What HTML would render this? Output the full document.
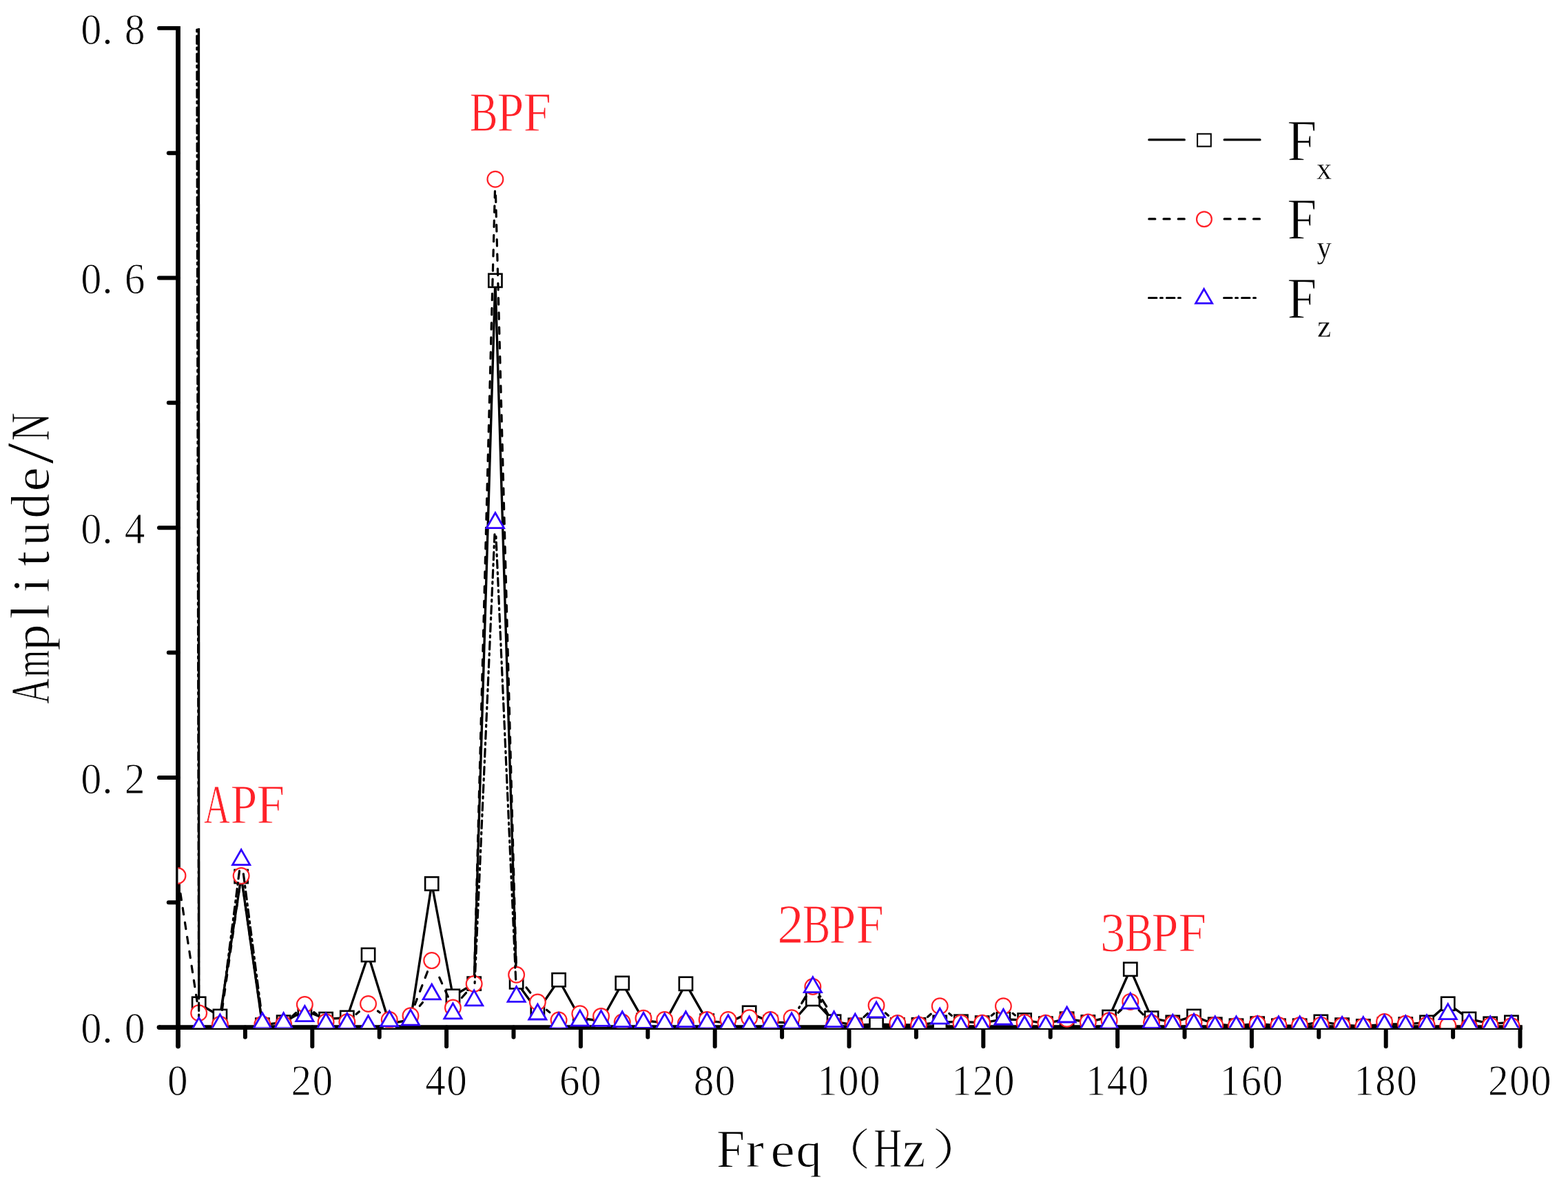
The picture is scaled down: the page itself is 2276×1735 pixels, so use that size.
<!DOCTYPE html><html><head><meta charset="utf-8"><title>Amplitude spectrum</title>
<style>html,body{margin:0;padding:0;background:#fff;}svg{display:block;}text{font-family:'Liberation Serif','Noto Serif CJK SC',serif;stroke:#fff;stroke-width:1px;}</style></head><body>
<svg width="2276" height="1735" viewBox="0 0 2276 1735">
<rect width="2276" height="1735" fill="#fff"/>
<defs><clipPath id="pc"><rect x="258.5" y="40.9" width="1952.0" height="1451.7"/></clipPath></defs>
<line x1="258.5" y1="38.0" x2="258.5" y2="1519.0" stroke="#000" stroke-width="6.8"/>
<circle cx="258.5" cy="1519.0" r="3.40" fill="#000"/>
<line x1="231.0" y1="1491.6" x2="2209.8" y2="1491.6" stroke="#000" stroke-width="6.8"/>
<circle cx="231.0" cy="1491.6" r="3.40" fill="#000"/>
<line x1="244.8" y1="1310.25" x2="258.5" y2="1310.25" stroke="#000" stroke-width="6.0" stroke-linecap="round"/>
<line x1="231.0" y1="1128.90" x2="258.5" y2="1128.90" stroke="#000" stroke-width="6.0" stroke-linecap="round"/>
<line x1="244.8" y1="947.55" x2="258.5" y2="947.55" stroke="#000" stroke-width="6.0" stroke-linecap="round"/>
<line x1="231.0" y1="766.20" x2="258.5" y2="766.20" stroke="#000" stroke-width="6.0" stroke-linecap="round"/>
<line x1="244.8" y1="584.85" x2="258.5" y2="584.85" stroke="#000" stroke-width="6.0" stroke-linecap="round"/>
<line x1="231.0" y1="403.50" x2="258.5" y2="403.50" stroke="#000" stroke-width="6.0" stroke-linecap="round"/>
<line x1="244.8" y1="222.15" x2="258.5" y2="222.15" stroke="#000" stroke-width="6.0" stroke-linecap="round"/>
<line x1="231.0" y1="40.94" x2="258.5" y2="40.94" stroke="#000" stroke-width="5.8" stroke-linecap="round"/>
<line x1="355.90" y1="1491.6" x2="355.90" y2="1505.7" stroke="#000" stroke-width="6.0" stroke-linecap="round"/>
<line x1="453.30" y1="1491.6" x2="453.30" y2="1519.3" stroke="#000" stroke-width="6.0" stroke-linecap="round"/>
<line x1="550.70" y1="1491.6" x2="550.70" y2="1505.7" stroke="#000" stroke-width="6.0" stroke-linecap="round"/>
<line x1="648.10" y1="1491.6" x2="648.10" y2="1519.3" stroke="#000" stroke-width="6.0" stroke-linecap="round"/>
<line x1="745.50" y1="1491.6" x2="745.50" y2="1505.7" stroke="#000" stroke-width="6.0" stroke-linecap="round"/>
<line x1="842.90" y1="1491.6" x2="842.90" y2="1519.3" stroke="#000" stroke-width="6.0" stroke-linecap="round"/>
<line x1="940.30" y1="1491.6" x2="940.30" y2="1505.7" stroke="#000" stroke-width="6.0" stroke-linecap="round"/>
<line x1="1037.70" y1="1491.6" x2="1037.70" y2="1519.3" stroke="#000" stroke-width="6.0" stroke-linecap="round"/>
<line x1="1135.10" y1="1491.6" x2="1135.10" y2="1505.7" stroke="#000" stroke-width="6.0" stroke-linecap="round"/>
<line x1="1232.50" y1="1491.6" x2="1232.50" y2="1519.3" stroke="#000" stroke-width="6.0" stroke-linecap="round"/>
<line x1="1329.90" y1="1491.6" x2="1329.90" y2="1505.7" stroke="#000" stroke-width="6.0" stroke-linecap="round"/>
<line x1="1427.30" y1="1491.6" x2="1427.30" y2="1519.3" stroke="#000" stroke-width="6.0" stroke-linecap="round"/>
<line x1="1524.70" y1="1491.6" x2="1524.70" y2="1505.7" stroke="#000" stroke-width="6.0" stroke-linecap="round"/>
<line x1="1622.10" y1="1491.6" x2="1622.10" y2="1519.3" stroke="#000" stroke-width="6.0" stroke-linecap="round"/>
<line x1="1719.50" y1="1491.6" x2="1719.50" y2="1505.7" stroke="#000" stroke-width="6.0" stroke-linecap="round"/>
<line x1="1816.90" y1="1491.6" x2="1816.90" y2="1519.3" stroke="#000" stroke-width="6.0" stroke-linecap="round"/>
<line x1="1914.30" y1="1491.6" x2="1914.30" y2="1505.7" stroke="#000" stroke-width="6.0" stroke-linecap="round"/>
<line x1="2011.70" y1="1491.6" x2="2011.70" y2="1519.3" stroke="#000" stroke-width="6.0" stroke-linecap="round"/>
<line x1="2109.10" y1="1491.6" x2="2109.10" y2="1505.7" stroke="#000" stroke-width="6.0" stroke-linecap="round"/>
<line x1="2206.50" y1="1491.6" x2="2206.50" y2="1519.3" stroke="#000" stroke-width="6.0" stroke-linecap="round"/>
<g clip-path="url(#pc)">
<path d="M288.4 0 L288.69 1457.32" fill="none" stroke="#000" stroke-width="3.4"/>
<polyline points="288.69,1457.32 319.42,1475.46 350.15,1272.53 380.88,1488.15 411.61,1484.16 442.34,1466.94 473.07,1479.63 503.80,1477.45 534.53,1386.42 565.25,1486.16 595.98,1480.72 626.71,1283.05 657.44,1446.26 688.17,1428.13 718.90,407.31 749.63,1425.77 780.36,1468.02 811.09,1422.69 841.82,1478.00 872.55,1482.53 903.28,1427.40 934.01,1481.44 964.74,1485.07 995.47,1428.31 1026.20,1482.17 1056.93,1485.07 1087.66,1470.38 1118.39,1483.98 1149.12,1485.07 1179.85,1450.43 1210.57,1483.26 1241.30,1488.34 1272.03,1487.07 1302.76,1487.97 1333.49,1487.79 1364.22,1484.35 1394.95,1483.26 1425.68,1485.07 1456.41,1479.81 1487.14,1481.08 1517.87,1486.16 1548.60,1479.27 1579.33,1483.98 1610.06,1476.55 1640.79,1407.27 1671.52,1478.18 1702.25,1484.35 1732.98,1475.46 1763.71,1487.25 1794.44,1489.24 1825.16,1486.16 1855.89,1489.24 1886.62,1489.24 1917.35,1483.44 1948.08,1488.15 1978.81,1489.97 2009.54,1487.07 2040.27,1487.07 2071.00,1484.35 2101.73,1457.32 2132.46,1479.45 2163.19,1486.34 2193.92,1484.35" fill="none" stroke="#000" stroke-width="3.4" stroke-linejoin="round"/>
<rect x="279.09" y="1447.72" width="19.2" height="19.2" fill="#fff" stroke="#000" stroke-width="2.6"/>
<rect x="309.82" y="1465.86" width="19.2" height="19.2" fill="#fff" stroke="#000" stroke-width="2.6"/>
<rect x="340.55" y="1262.93" width="19.2" height="19.2" fill="#fff" stroke="#000" stroke-width="2.6"/>
<rect x="371.28" y="1478.55" width="19.2" height="19.2" fill="#fff" stroke="#000" stroke-width="2.6"/>
<rect x="402.01" y="1474.56" width="19.2" height="19.2" fill="#fff" stroke="#000" stroke-width="2.6"/>
<rect x="432.74" y="1457.34" width="19.2" height="19.2" fill="#fff" stroke="#000" stroke-width="2.6"/>
<rect x="463.47" y="1470.03" width="19.2" height="19.2" fill="#fff" stroke="#000" stroke-width="2.6"/>
<rect x="494.20" y="1467.85" width="19.2" height="19.2" fill="#fff" stroke="#000" stroke-width="2.6"/>
<rect x="524.93" y="1376.82" width="19.2" height="19.2" fill="#fff" stroke="#000" stroke-width="2.6"/>
<rect x="555.65" y="1476.56" width="19.2" height="19.2" fill="#fff" stroke="#000" stroke-width="2.6"/>
<rect x="586.38" y="1471.12" width="19.2" height="19.2" fill="#fff" stroke="#000" stroke-width="2.6"/>
<rect x="617.11" y="1273.45" width="19.2" height="19.2" fill="#fff" stroke="#000" stroke-width="2.6"/>
<rect x="647.84" y="1436.66" width="19.2" height="19.2" fill="#fff" stroke="#000" stroke-width="2.6"/>
<rect x="678.57" y="1418.53" width="19.2" height="19.2" fill="#fff" stroke="#000" stroke-width="2.6"/>
<rect x="709.30" y="397.71" width="19.2" height="19.2" fill="#fff" stroke="#000" stroke-width="2.6"/>
<rect x="740.03" y="1416.17" width="19.2" height="19.2" fill="#fff" stroke="#000" stroke-width="2.6"/>
<rect x="770.76" y="1458.42" width="19.2" height="19.2" fill="#fff" stroke="#000" stroke-width="2.6"/>
<rect x="801.49" y="1413.09" width="19.2" height="19.2" fill="#fff" stroke="#000" stroke-width="2.6"/>
<rect x="832.22" y="1468.40" width="19.2" height="19.2" fill="#fff" stroke="#000" stroke-width="2.6"/>
<rect x="862.95" y="1472.93" width="19.2" height="19.2" fill="#fff" stroke="#000" stroke-width="2.6"/>
<rect x="893.68" y="1417.80" width="19.2" height="19.2" fill="#fff" stroke="#000" stroke-width="2.6"/>
<rect x="924.41" y="1471.84" width="19.2" height="19.2" fill="#fff" stroke="#000" stroke-width="2.6"/>
<rect x="955.14" y="1475.47" width="19.2" height="19.2" fill="#fff" stroke="#000" stroke-width="2.6"/>
<rect x="985.87" y="1418.71" width="19.2" height="19.2" fill="#fff" stroke="#000" stroke-width="2.6"/>
<rect x="1016.60" y="1472.57" width="19.2" height="19.2" fill="#fff" stroke="#000" stroke-width="2.6"/>
<rect x="1047.33" y="1475.47" width="19.2" height="19.2" fill="#fff" stroke="#000" stroke-width="2.6"/>
<rect x="1078.06" y="1460.78" width="19.2" height="19.2" fill="#fff" stroke="#000" stroke-width="2.6"/>
<rect x="1108.79" y="1474.38" width="19.2" height="19.2" fill="#fff" stroke="#000" stroke-width="2.6"/>
<rect x="1139.52" y="1475.47" width="19.2" height="19.2" fill="#fff" stroke="#000" stroke-width="2.6"/>
<rect x="1170.25" y="1440.83" width="19.2" height="19.2" fill="#fff" stroke="#000" stroke-width="2.6"/>
<rect x="1200.97" y="1473.66" width="19.2" height="19.2" fill="#fff" stroke="#000" stroke-width="2.6"/>
<rect x="1231.70" y="1478.74" width="19.2" height="19.2" fill="#fff" stroke="#000" stroke-width="2.6"/>
<rect x="1262.43" y="1477.47" width="19.2" height="19.2" fill="#fff" stroke="#000" stroke-width="2.6"/>
<rect x="1293.16" y="1478.37" width="19.2" height="19.2" fill="#fff" stroke="#000" stroke-width="2.6"/>
<rect x="1323.89" y="1478.19" width="19.2" height="19.2" fill="#fff" stroke="#000" stroke-width="2.6"/>
<rect x="1354.62" y="1474.75" width="19.2" height="19.2" fill="#fff" stroke="#000" stroke-width="2.6"/>
<rect x="1385.35" y="1473.66" width="19.2" height="19.2" fill="#fff" stroke="#000" stroke-width="2.6"/>
<rect x="1416.08" y="1475.47" width="19.2" height="19.2" fill="#fff" stroke="#000" stroke-width="2.6"/>
<rect x="1446.81" y="1470.21" width="19.2" height="19.2" fill="#fff" stroke="#000" stroke-width="2.6"/>
<rect x="1477.54" y="1471.48" width="19.2" height="19.2" fill="#fff" stroke="#000" stroke-width="2.6"/>
<rect x="1508.27" y="1476.56" width="19.2" height="19.2" fill="#fff" stroke="#000" stroke-width="2.6"/>
<rect x="1539.00" y="1469.67" width="19.2" height="19.2" fill="#fff" stroke="#000" stroke-width="2.6"/>
<rect x="1569.73" y="1474.38" width="19.2" height="19.2" fill="#fff" stroke="#000" stroke-width="2.6"/>
<rect x="1600.46" y="1466.95" width="19.2" height="19.2" fill="#fff" stroke="#000" stroke-width="2.6"/>
<rect x="1631.19" y="1397.67" width="19.2" height="19.2" fill="#fff" stroke="#000" stroke-width="2.6"/>
<rect x="1661.92" y="1468.58" width="19.2" height="19.2" fill="#fff" stroke="#000" stroke-width="2.6"/>
<rect x="1692.65" y="1474.75" width="19.2" height="19.2" fill="#fff" stroke="#000" stroke-width="2.6"/>
<rect x="1723.38" y="1465.86" width="19.2" height="19.2" fill="#fff" stroke="#000" stroke-width="2.6"/>
<rect x="1754.11" y="1477.65" width="19.2" height="19.2" fill="#fff" stroke="#000" stroke-width="2.6"/>
<rect x="1784.84" y="1479.64" width="19.2" height="19.2" fill="#fff" stroke="#000" stroke-width="2.6"/>
<rect x="1815.56" y="1476.56" width="19.2" height="19.2" fill="#fff" stroke="#000" stroke-width="2.6"/>
<rect x="1846.29" y="1479.64" width="19.2" height="19.2" fill="#fff" stroke="#000" stroke-width="2.6"/>
<rect x="1877.02" y="1479.64" width="19.2" height="19.2" fill="#fff" stroke="#000" stroke-width="2.6"/>
<rect x="1907.75" y="1473.84" width="19.2" height="19.2" fill="#fff" stroke="#000" stroke-width="2.6"/>
<rect x="1938.48" y="1478.55" width="19.2" height="19.2" fill="#fff" stroke="#000" stroke-width="2.6"/>
<rect x="1969.21" y="1480.37" width="19.2" height="19.2" fill="#fff" stroke="#000" stroke-width="2.6"/>
<rect x="1999.94" y="1477.47" width="19.2" height="19.2" fill="#fff" stroke="#000" stroke-width="2.6"/>
<rect x="2030.67" y="1477.47" width="19.2" height="19.2" fill="#fff" stroke="#000" stroke-width="2.6"/>
<rect x="2061.40" y="1474.75" width="19.2" height="19.2" fill="#fff" stroke="#000" stroke-width="2.6"/>
<rect x="2092.13" y="1447.72" width="19.2" height="19.2" fill="#fff" stroke="#000" stroke-width="2.6"/>
<rect x="2122.86" y="1469.85" width="19.2" height="19.2" fill="#fff" stroke="#000" stroke-width="2.6"/>
<rect x="2153.59" y="1476.74" width="19.2" height="19.2" fill="#fff" stroke="#000" stroke-width="2.6"/>
<rect x="2184.32" y="1474.75" width="19.2" height="19.2" fill="#fff" stroke="#000" stroke-width="2.6"/>
<g fill="none" stroke="#000" stroke-width="3.2" stroke-dasharray="9.45 11.8" stroke-linecap="round">
<line x1="286.05" y1="1453.65" x2="260.60" y2="1288.54"/><line x1="347.71" y1="1288.75" x2="321.86" y2="1470.12"/><line x1="378.44" y1="1469.94" x2="352.59" y2="1288.75"/><line x1="429.65" y1="1470.35" x2="424.30" y2="1475.31"/><line x1="459.69" y1="1472.83" x2="455.71" y2="1469.57"/><line x1="521.38" y1="1468.75" x2="516.94" y2="1472.55"/><line x1="551.41" y1="1470.16" x2="548.37" y2="1467.88"/><line x1="620.52" y1="1410.73" x2="602.18" y2="1458.58"/><line x1="650.35" y1="1447.17" x2="633.81" y2="1410.36"/><line x1="676.66" y1="1441.40" x2="668.96" y2="1450.04"/><line x1="718.45" y1="277.53" x2="688.63" y2="1411.20"/><line x1="749.17" y1="1397.96" x2="719.36" y2="277.53"/><line x1="769.77" y1="1441.28" x2="760.22" y2="1428.93"/><line x1="797.91" y1="1469.88" x2="793.54" y2="1466.17"/><line x1="1170.14" y1="1446.80" x2="1158.82" y2="1463.50"/><line x1="1202.24" y1="1473.18" x2="1188.18" y2="1447.64"/><line x1="1259.42" y1="1471.52" x2="1253.92" y2="1476.68"/><line x1="1289.54" y1="1474.46" x2="1285.25" y2="1470.84"/><line x1="1351.27" y1="1472.24" x2="1346.45" y2="1476.51"/><line x1="1381.42" y1="1474.47" x2="1377.75" y2="1471.55"/><line x1="1442.88" y1="1471.55" x2="1439.21" y2="1474.47"/><line x1="1473.45" y1="1473.95" x2="1470.10" y2="1471.35"/><line x1="1627.87" y1="1465.93" x2="1622.97" y2="1470.30"/><line x1="1659.27" y1="1472.85" x2="1653.04" y2="1466.64"/>
</g>
<circle cx="257.96" cy="1271.44" r="11.4" fill="#fff" stroke="#ff2128" stroke-width="2.2"/>
<circle cx="288.69" cy="1470.74" r="11.4" fill="#fff" stroke="#ff2128" stroke-width="2.2"/>
<circle cx="319.42" cy="1487.25" r="11.4" fill="#fff" stroke="#ff2128" stroke-width="2.2"/>
<circle cx="350.15" cy="1271.62" r="11.4" fill="#fff" stroke="#ff2128" stroke-width="2.2"/>
<circle cx="380.88" cy="1487.07" r="11.4" fill="#fff" stroke="#ff2128" stroke-width="2.2"/>
<circle cx="411.61" cy="1487.07" r="11.4" fill="#fff" stroke="#ff2128" stroke-width="2.2"/>
<circle cx="442.34" cy="1458.59" r="11.4" fill="#fff" stroke="#ff2128" stroke-width="2.2"/>
<circle cx="473.07" cy="1483.80" r="11.4" fill="#fff" stroke="#ff2128" stroke-width="2.2"/>
<circle cx="503.80" cy="1483.80" r="11.4" fill="#fff" stroke="#ff2128" stroke-width="2.2"/>
<circle cx="534.53" cy="1457.51" r="11.4" fill="#fff" stroke="#ff2128" stroke-width="2.2"/>
<circle cx="565.25" cy="1480.54" r="11.4" fill="#fff" stroke="#ff2128" stroke-width="2.2"/>
<circle cx="595.98" cy="1474.73" r="11.4" fill="#fff" stroke="#ff2128" stroke-width="2.2"/>
<circle cx="626.71" cy="1394.58" r="11.4" fill="#fff" stroke="#ff2128" stroke-width="2.2"/>
<circle cx="657.44" cy="1462.95" r="11.4" fill="#fff" stroke="#ff2128" stroke-width="2.2"/>
<circle cx="688.17" cy="1428.49" r="11.4" fill="#fff" stroke="#ff2128" stroke-width="2.2"/>
<circle cx="718.90" cy="260.23" r="11.4" fill="#fff" stroke="#ff2128" stroke-width="2.2"/>
<circle cx="749.63" cy="1415.25" r="11.4" fill="#fff" stroke="#ff2128" stroke-width="2.2"/>
<circle cx="780.36" cy="1454.97" r="11.4" fill="#fff" stroke="#ff2128" stroke-width="2.2"/>
<circle cx="811.09" cy="1481.08" r="11.4" fill="#fff" stroke="#ff2128" stroke-width="2.2"/>
<circle cx="841.82" cy="1471.83" r="11.4" fill="#fff" stroke="#ff2128" stroke-width="2.2"/>
<circle cx="872.55" cy="1475.46" r="11.4" fill="#fff" stroke="#ff2128" stroke-width="2.2"/>
<circle cx="903.28" cy="1483.98" r="11.4" fill="#fff" stroke="#ff2128" stroke-width="2.2"/>
<circle cx="934.01" cy="1478.36" r="11.4" fill="#fff" stroke="#ff2128" stroke-width="2.2"/>
<circle cx="964.74" cy="1480.54" r="11.4" fill="#fff" stroke="#ff2128" stroke-width="2.2"/>
<circle cx="995.47" cy="1485.62" r="11.4" fill="#fff" stroke="#ff2128" stroke-width="2.2"/>
<circle cx="1026.20" cy="1480.54" r="11.4" fill="#fff" stroke="#ff2128" stroke-width="2.2"/>
<circle cx="1056.93" cy="1480.54" r="11.4" fill="#fff" stroke="#ff2128" stroke-width="2.2"/>
<circle cx="1087.66" cy="1477.82" r="11.4" fill="#fff" stroke="#ff2128" stroke-width="2.2"/>
<circle cx="1118.39" cy="1480.54" r="11.4" fill="#fff" stroke="#ff2128" stroke-width="2.2"/>
<circle cx="1149.12" cy="1477.82" r="11.4" fill="#fff" stroke="#ff2128" stroke-width="2.2"/>
<circle cx="1179.85" cy="1432.48" r="11.4" fill="#fff" stroke="#ff2128" stroke-width="2.2"/>
<circle cx="1210.57" cy="1488.34" r="11.4" fill="#fff" stroke="#ff2128" stroke-width="2.2"/>
<circle cx="1241.30" cy="1488.52" r="11.4" fill="#fff" stroke="#ff2128" stroke-width="2.2"/>
<circle cx="1272.03" cy="1459.68" r="11.4" fill="#fff" stroke="#ff2128" stroke-width="2.2"/>
<circle cx="1302.76" cy="1485.62" r="11.4" fill="#fff" stroke="#ff2128" stroke-width="2.2"/>
<circle cx="1333.49" cy="1487.97" r="11.4" fill="#fff" stroke="#ff2128" stroke-width="2.2"/>
<circle cx="1364.22" cy="1460.77" r="11.4" fill="#fff" stroke="#ff2128" stroke-width="2.2"/>
<circle cx="1394.95" cy="1485.25" r="11.4" fill="#fff" stroke="#ff2128" stroke-width="2.2"/>
<circle cx="1425.68" cy="1485.25" r="11.4" fill="#fff" stroke="#ff2128" stroke-width="2.2"/>
<circle cx="1456.41" cy="1460.77" r="11.4" fill="#fff" stroke="#ff2128" stroke-width="2.2"/>
<circle cx="1487.14" cy="1484.53" r="11.4" fill="#fff" stroke="#ff2128" stroke-width="2.2"/>
<circle cx="1517.87" cy="1485.25" r="11.4" fill="#fff" stroke="#ff2128" stroke-width="2.2"/>
<circle cx="1548.60" cy="1479.27" r="11.4" fill="#fff" stroke="#ff2128" stroke-width="2.2"/>
<circle cx="1579.33" cy="1483.98" r="11.4" fill="#fff" stroke="#ff2128" stroke-width="2.2"/>
<circle cx="1610.06" cy="1481.81" r="11.4" fill="#fff" stroke="#ff2128" stroke-width="2.2"/>
<circle cx="1640.79" cy="1454.42" r="11.4" fill="#fff" stroke="#ff2128" stroke-width="2.2"/>
<circle cx="1671.52" cy="1485.07" r="11.4" fill="#fff" stroke="#ff2128" stroke-width="2.2"/>
<circle cx="1702.25" cy="1486.16" r="11.4" fill="#fff" stroke="#ff2128" stroke-width="2.2"/>
<circle cx="1732.98" cy="1484.35" r="11.4" fill="#fff" stroke="#ff2128" stroke-width="2.2"/>
<circle cx="1763.71" cy="1488.52" r="11.4" fill="#fff" stroke="#ff2128" stroke-width="2.2"/>
<circle cx="1794.44" cy="1489.42" r="11.4" fill="#fff" stroke="#ff2128" stroke-width="2.2"/>
<circle cx="1825.16" cy="1486.52" r="11.4" fill="#fff" stroke="#ff2128" stroke-width="2.2"/>
<circle cx="1855.89" cy="1488.52" r="11.4" fill="#fff" stroke="#ff2128" stroke-width="2.2"/>
<circle cx="1886.62" cy="1488.52" r="11.4" fill="#fff" stroke="#ff2128" stroke-width="2.2"/>
<circle cx="1917.35" cy="1488.15" r="11.4" fill="#fff" stroke="#ff2128" stroke-width="2.2"/>
<circle cx="1948.08" cy="1489.06" r="11.4" fill="#fff" stroke="#ff2128" stroke-width="2.2"/>
<circle cx="1978.81" cy="1490.15" r="11.4" fill="#fff" stroke="#ff2128" stroke-width="2.2"/>
<circle cx="2009.54" cy="1483.62" r="11.4" fill="#fff" stroke="#ff2128" stroke-width="2.2"/>
<circle cx="2040.27" cy="1486.34" r="11.4" fill="#fff" stroke="#ff2128" stroke-width="2.2"/>
<circle cx="2071.00" cy="1487.97" r="11.4" fill="#fff" stroke="#ff2128" stroke-width="2.2"/>
<circle cx="2101.73" cy="1489.06" r="11.4" fill="#fff" stroke="#ff2128" stroke-width="2.2"/>
<circle cx="2132.46" cy="1490.69" r="11.4" fill="#fff" stroke="#ff2128" stroke-width="2.2"/>
<circle cx="2163.19" cy="1488.88" r="11.4" fill="#fff" stroke="#ff2128" stroke-width="2.2"/>
<circle cx="2193.92" cy="1489.42" r="11.4" fill="#fff" stroke="#ff2128" stroke-width="2.2"/>
<path d="M285.7 0 L288.69 1487.97" fill="none" stroke="#000" stroke-width="3.2" stroke-dasharray="11.5 5.5 3 6" stroke-linecap="round"/>
<g fill="none" stroke="#000" stroke-width="3.2" stroke-dasharray="11.3 5.7 2.8 6.2" stroke-linecap="round">
<line x1="347.50" y1="1264.69" x2="322.07" y2="1462.63"/><line x1="378.20" y1="1460.45" x2="352.82" y2="1264.68"/><line x1="613.46" y1="1455.40" x2="609.24" y2="1460.52"/><line x1="717.98" y1="775.74" x2="689.09" y2="1427.48"/><line x1="748.70" y1="1422.04" x2="719.83" y2="775.74"/><line x1="1169.30" y1="1446.96" x2="1159.66" y2="1463.34"/><line x1="1199.69" y1="1461.36" x2="1190.73" y2="1446.76"/><line x1="1625.62" y1="1466.66" x2="1625.23" y2="1467.03"/>
</g>
<path d="M288.69 1477.57L301.29 1499.57L276.09 1499.57Z" fill="#fff" stroke="#3000ff" stroke-width="2.8" stroke-linejoin="miter"/>
<path d="M319.42 1472.86L332.02 1494.86L306.82 1494.86Z" fill="#fff" stroke="#3000ff" stroke-width="2.8" stroke-linejoin="miter"/>
<path d="M350.15 1233.66L362.75 1255.66L337.55 1255.66Z" fill="#fff" stroke="#3000ff" stroke-width="2.8" stroke-linejoin="miter"/>
<path d="M380.88 1470.68L393.48 1492.68L368.28 1492.68Z" fill="#fff" stroke="#3000ff" stroke-width="2.8" stroke-linejoin="miter"/>
<path d="M411.61 1470.68L424.21 1492.68L399.01 1492.68Z" fill="#fff" stroke="#3000ff" stroke-width="2.8" stroke-linejoin="miter"/>
<path d="M442.34 1460.53L454.94 1482.53L429.74 1482.53Z" fill="#fff" stroke="#3000ff" stroke-width="2.8" stroke-linejoin="miter"/>
<path d="M473.07 1471.23L485.67 1493.23L460.47 1493.23Z" fill="#fff" stroke="#3000ff" stroke-width="2.8" stroke-linejoin="miter"/>
<path d="M503.80 1471.23L516.40 1493.23L491.20 1493.23Z" fill="#fff" stroke="#3000ff" stroke-width="2.8" stroke-linejoin="miter"/>
<path d="M534.53 1474.67L547.13 1496.67L521.93 1496.67Z" fill="#fff" stroke="#3000ff" stroke-width="2.8" stroke-linejoin="miter"/>
<path d="M565.25 1467.96L577.86 1489.96L552.65 1489.96Z" fill="#fff" stroke="#3000ff" stroke-width="2.8" stroke-linejoin="miter"/>
<path d="M595.98 1466.15L608.58 1488.15L583.38 1488.15Z" fill="#fff" stroke="#3000ff" stroke-width="2.8" stroke-linejoin="miter"/>
<path d="M626.71 1428.97L639.31 1450.97L614.11 1450.97Z" fill="#fff" stroke="#3000ff" stroke-width="2.8" stroke-linejoin="miter"/>
<path d="M657.44 1456.90L670.04 1478.90L644.84 1478.90Z" fill="#fff" stroke="#3000ff" stroke-width="2.8" stroke-linejoin="miter"/>
<path d="M688.17 1437.86L700.77 1459.86L675.57 1459.86Z" fill="#fff" stroke="#3000ff" stroke-width="2.8" stroke-linejoin="miter"/>
<path d="M718.90 744.56L731.50 766.56L706.30 766.56Z" fill="#fff" stroke="#3000ff" stroke-width="2.8" stroke-linejoin="miter"/>
<path d="M749.63 1432.42L762.23 1454.42L737.03 1454.42Z" fill="#fff" stroke="#3000ff" stroke-width="2.8" stroke-linejoin="miter"/>
<path d="M780.36 1457.99L792.96 1479.99L767.76 1479.99Z" fill="#fff" stroke="#3000ff" stroke-width="2.8" stroke-linejoin="miter"/>
<path d="M811.09 1470.86L823.69 1492.86L798.49 1492.86Z" fill="#fff" stroke="#3000ff" stroke-width="2.8" stroke-linejoin="miter"/>
<path d="M841.82 1467.05L854.42 1489.05L829.22 1489.05Z" fill="#fff" stroke="#3000ff" stroke-width="2.8" stroke-linejoin="miter"/>
<path d="M872.55 1467.42L885.15 1489.42L859.95 1489.42Z" fill="#fff" stroke="#3000ff" stroke-width="2.8" stroke-linejoin="miter"/>
<path d="M903.28 1468.69L915.88 1490.69L890.68 1490.69Z" fill="#fff" stroke="#3000ff" stroke-width="2.8" stroke-linejoin="miter"/>
<path d="M934.01 1470.32L946.61 1492.32L921.41 1492.32Z" fill="#fff" stroke="#3000ff" stroke-width="2.8" stroke-linejoin="miter"/>
<path d="M964.74 1471.59L977.34 1493.59L952.14 1493.59Z" fill="#fff" stroke="#3000ff" stroke-width="2.8" stroke-linejoin="miter"/>
<path d="M995.47 1468.69L1008.07 1490.69L982.87 1490.69Z" fill="#fff" stroke="#3000ff" stroke-width="2.8" stroke-linejoin="miter"/>
<path d="M1026.20 1470.86L1038.80 1492.86L1013.60 1492.86Z" fill="#fff" stroke="#3000ff" stroke-width="2.8" stroke-linejoin="miter"/>
<path d="M1056.93 1473.76L1069.53 1495.76L1044.33 1495.76Z" fill="#fff" stroke="#3000ff" stroke-width="2.8" stroke-linejoin="miter"/>
<path d="M1087.66 1475.94L1100.26 1497.94L1075.06 1497.94Z" fill="#fff" stroke="#3000ff" stroke-width="2.8" stroke-linejoin="miter"/>
<path d="M1118.39 1470.86L1130.99 1492.86L1105.79 1492.86Z" fill="#fff" stroke="#3000ff" stroke-width="2.8" stroke-linejoin="miter"/>
<path d="M1149.12 1470.86L1161.72 1492.86L1136.52 1492.86Z" fill="#fff" stroke="#3000ff" stroke-width="2.8" stroke-linejoin="miter"/>
<path d="M1179.85 1418.63L1192.44 1440.63L1167.25 1440.63Z" fill="#fff" stroke="#3000ff" stroke-width="2.8" stroke-linejoin="miter"/>
<path d="M1210.57 1468.69L1223.17 1490.69L1197.97 1490.69Z" fill="#fff" stroke="#3000ff" stroke-width="2.8" stroke-linejoin="miter"/>
<path d="M1241.30 1472.13L1253.90 1494.13L1228.70 1494.13Z" fill="#fff" stroke="#3000ff" stroke-width="2.8" stroke-linejoin="miter"/>
<path d="M1272.03 1454.90L1284.63 1476.90L1259.43 1476.90Z" fill="#fff" stroke="#3000ff" stroke-width="2.8" stroke-linejoin="miter"/>
<path d="M1302.76 1475.94L1315.36 1497.94L1290.16 1497.94Z" fill="#fff" stroke="#3000ff" stroke-width="2.8" stroke-linejoin="miter"/>
<path d="M1333.49 1475.94L1346.09 1497.94L1320.89 1497.94Z" fill="#fff" stroke="#3000ff" stroke-width="2.8" stroke-linejoin="miter"/>
<path d="M1364.22 1464.15L1376.82 1486.15L1351.62 1486.15Z" fill="#fff" stroke="#3000ff" stroke-width="2.8" stroke-linejoin="miter"/>
<path d="M1394.95 1476.67L1407.55 1498.67L1382.35 1498.67Z" fill="#fff" stroke="#3000ff" stroke-width="2.8" stroke-linejoin="miter"/>
<path d="M1425.68 1475.94L1438.28 1497.94L1413.08 1497.94Z" fill="#fff" stroke="#3000ff" stroke-width="2.8" stroke-linejoin="miter"/>
<path d="M1456.41 1465.24L1469.01 1487.24L1443.81 1487.24Z" fill="#fff" stroke="#3000ff" stroke-width="2.8" stroke-linejoin="miter"/>
<path d="M1487.14 1475.58L1499.74 1497.58L1474.54 1497.58Z" fill="#fff" stroke="#3000ff" stroke-width="2.8" stroke-linejoin="miter"/>
<path d="M1517.87 1475.58L1530.47 1497.58L1505.27 1497.58Z" fill="#fff" stroke="#3000ff" stroke-width="2.8" stroke-linejoin="miter"/>
<path d="M1548.60 1461.98L1561.20 1483.98L1536.00 1483.98Z" fill="#fff" stroke="#3000ff" stroke-width="2.8" stroke-linejoin="miter"/>
<path d="M1579.33 1474.85L1591.93 1496.85L1566.73 1496.85Z" fill="#fff" stroke="#3000ff" stroke-width="2.8" stroke-linejoin="miter"/>
<path d="M1610.06 1470.86L1622.66 1492.86L1597.46 1492.86Z" fill="#fff" stroke="#3000ff" stroke-width="2.8" stroke-linejoin="miter"/>
<path d="M1640.79 1442.03L1653.39 1464.03L1628.19 1464.03Z" fill="#fff" stroke="#3000ff" stroke-width="2.8" stroke-linejoin="miter"/>
<path d="M1671.52 1470.32L1684.12 1492.32L1658.92 1492.32Z" fill="#fff" stroke="#3000ff" stroke-width="2.8" stroke-linejoin="miter"/>
<path d="M1702.25 1473.22L1714.85 1495.22L1689.65 1495.22Z" fill="#fff" stroke="#3000ff" stroke-width="2.8" stroke-linejoin="miter"/>
<path d="M1732.98 1472.31L1745.58 1494.31L1720.38 1494.31Z" fill="#fff" stroke="#3000ff" stroke-width="2.8" stroke-linejoin="miter"/>
<path d="M1763.71 1475.76L1776.31 1497.76L1751.11 1497.76Z" fill="#fff" stroke="#3000ff" stroke-width="2.8" stroke-linejoin="miter"/>
<path d="M1794.44 1475.76L1807.04 1497.76L1781.84 1497.76Z" fill="#fff" stroke="#3000ff" stroke-width="2.8" stroke-linejoin="miter"/>
<path d="M1825.16 1475.76L1837.76 1497.76L1812.56 1497.76Z" fill="#fff" stroke="#3000ff" stroke-width="2.8" stroke-linejoin="miter"/>
<path d="M1855.89 1475.76L1868.49 1497.76L1843.29 1497.76Z" fill="#fff" stroke="#3000ff" stroke-width="2.8" stroke-linejoin="miter"/>
<path d="M1886.62 1475.76L1899.22 1497.76L1874.02 1497.76Z" fill="#fff" stroke="#3000ff" stroke-width="2.8" stroke-linejoin="miter"/>
<path d="M1917.35 1475.03L1929.95 1497.03L1904.75 1497.03Z" fill="#fff" stroke="#3000ff" stroke-width="2.8" stroke-linejoin="miter"/>
<path d="M1948.08 1476.48L1960.68 1498.48L1935.48 1498.48Z" fill="#fff" stroke="#3000ff" stroke-width="2.8" stroke-linejoin="miter"/>
<path d="M1978.81 1476.67L1991.41 1498.67L1966.21 1498.67Z" fill="#fff" stroke="#3000ff" stroke-width="2.8" stroke-linejoin="miter"/>
<path d="M2009.54 1473.76L2022.14 1495.76L1996.94 1495.76Z" fill="#fff" stroke="#3000ff" stroke-width="2.8" stroke-linejoin="miter"/>
<path d="M2040.27 1474.85L2052.87 1496.85L2027.67 1496.85Z" fill="#fff" stroke="#3000ff" stroke-width="2.8" stroke-linejoin="miter"/>
<path d="M2071.00 1473.76L2083.60 1495.76L2058.40 1495.76Z" fill="#fff" stroke="#3000ff" stroke-width="2.8" stroke-linejoin="miter"/>
<path d="M2101.73 1457.62L2114.33 1479.62L2089.13 1479.62Z" fill="#fff" stroke="#3000ff" stroke-width="2.8" stroke-linejoin="miter"/>
<path d="M2132.46 1473.04L2145.06 1495.04L2119.86 1495.04Z" fill="#fff" stroke="#3000ff" stroke-width="2.8" stroke-linejoin="miter"/>
<path d="M2163.19 1475.94L2175.79 1497.94L2150.59 1497.94Z" fill="#fff" stroke="#3000ff" stroke-width="2.8" stroke-linejoin="miter"/>
<path d="M2193.92 1474.85L2206.52 1496.85L2181.32 1496.85Z" fill="#fff" stroke="#3000ff" stroke-width="2.8" stroke-linejoin="miter"/>
</g>
<text transform="matrix(0.9497 0 0 1 117.30 1514.40)" font-size="63.60">0</text>
<text transform="matrix(1.0000 0 0 1.0000 148.00 1514.40)" font-size="63.60" fill="#000">.</text>
<text transform="matrix(0.9386 0 0 1 180.73 1514.40)" font-size="63.60">0</text>
<text transform="matrix(0.9497 0 0 1 117.30 1151.70)" font-size="63.60">0</text>
<text transform="matrix(1.0000 0 0 1.0000 148.00 1151.70)" font-size="63.60" fill="#000">.</text>
<text transform="matrix(0.9386 0 0 1 180.73 1151.70)" font-size="63.60">2</text>
<text transform="matrix(0.9497 0 0 1 117.30 789.00)" font-size="63.60">0</text>
<text transform="matrix(1.0000 0 0 1.0000 148.00 789.00)" font-size="63.60" fill="#000">.</text>
<text transform="matrix(0.9386 0 0 1 180.73 789.00)" font-size="63.60">4</text>
<text transform="matrix(0.9497 0 0 1 117.30 426.30)" font-size="63.60">0</text>
<text transform="matrix(1.0000 0 0 1.0000 148.00 426.30)" font-size="63.60" fill="#000">.</text>
<text transform="matrix(0.9386 0 0 1 180.73 426.30)" font-size="63.60">6</text>
<text transform="matrix(0.9497 0 0 1 117.30 63.60)" font-size="63.60">0</text>
<text transform="matrix(1.0000 0 0 1.0000 148.00 63.60)" font-size="63.60" fill="#000">.</text>
<text transform="matrix(0.9386 0 0 1 180.73 63.60)" font-size="63.60">8</text>
<text transform="matrix(0.9300 0 0 1 243.09 1590.30)" font-size="63.70">0</text>
<text transform="matrix(0.9300 0 0 1 422.39 1590.30)" font-size="63.70">2</text>
<text transform="matrix(0.9300 0 0 1 453.39 1590.30)" font-size="63.70">0</text>
<text transform="matrix(0.9300 0 0 1 617.19 1590.30)" font-size="63.70">4</text>
<text transform="matrix(0.9300 0 0 1 648.19 1590.30)" font-size="63.70">0</text>
<text transform="matrix(0.9300 0 0 1 811.99 1590.30)" font-size="63.70">6</text>
<text transform="matrix(0.9300 0 0 1 842.99 1590.30)" font-size="63.70">0</text>
<text transform="matrix(0.9300 0 0 1 1006.79 1590.30)" font-size="63.70">8</text>
<text transform="matrix(0.9300 0 0 1 1037.79 1590.30)" font-size="63.70">0</text>
<text transform="matrix(0.9300 0 0 1 1186.09 1590.30)" font-size="63.70">1</text>
<text transform="matrix(0.9300 0 0 1 1217.09 1590.30)" font-size="63.70">0</text>
<text transform="matrix(0.9300 0 0 1 1248.09 1590.30)" font-size="63.70">0</text>
<text transform="matrix(0.9300 0 0 1 1380.89 1590.30)" font-size="63.70">1</text>
<text transform="matrix(0.9300 0 0 1 1411.89 1590.30)" font-size="63.70">2</text>
<text transform="matrix(0.9300 0 0 1 1442.89 1590.30)" font-size="63.70">0</text>
<text transform="matrix(0.9300 0 0 1 1575.69 1590.30)" font-size="63.70">1</text>
<text transform="matrix(0.9300 0 0 1 1606.69 1590.30)" font-size="63.70">4</text>
<text transform="matrix(0.9300 0 0 1 1637.69 1590.30)" font-size="63.70">0</text>
<text transform="matrix(0.9300 0 0 1 1770.49 1590.30)" font-size="63.70">1</text>
<text transform="matrix(0.9300 0 0 1 1801.49 1590.30)" font-size="63.70">6</text>
<text transform="matrix(0.9300 0 0 1 1832.49 1590.30)" font-size="63.70">0</text>
<text transform="matrix(0.9300 0 0 1 1965.29 1590.30)" font-size="63.70">1</text>
<text transform="matrix(0.9300 0 0 1 1996.29 1590.30)" font-size="63.70">8</text>
<text transform="matrix(0.9300 0 0 1 2027.29 1590.30)" font-size="63.70">0</text>
<text transform="matrix(0.9300 0 0 1 2160.09 1590.30)" font-size="63.70">2</text>
<text transform="matrix(0.9300 0 0 1 2191.09 1590.30)" font-size="63.70">0</text>
<text transform="matrix(0.9300 0 0 1 2222.09 1590.30)" font-size="63.70">0</text>
<g transform="translate(71.2 1020.7) rotate(-90)">
<text transform="matrix(0.6371 0 0 1.0000 -1.00 0.00)" font-size="79.70" fill="#000">A</text>
<text transform="matrix(0.6449 0 0 0.9200 37.12 0.00)" font-size="79.70" fill="#000">m</text>
<text transform="matrix(0.9675 0 0 0.9200 75.96 0.00)" font-size="79.70" fill="#000">p</text>
<text transform="matrix(1.0000 0 0 1.0000 122.03 0.00)" font-size="79.70" fill="#000">l</text>
<text transform="matrix(1.0000 0 0 0.9500 159.90 0.00)" font-size="79.70" fill="#000">i</text>
<text transform="matrix(1.0000 0 0 1.0000 198.42 0.00)" font-size="79.70" fill="#000">t</text>
<text transform="matrix(0.8521 0 0 0.9200 228.80 0.00)" font-size="79.70" fill="#000">u</text>
<text transform="matrix(0.9084 0 0 1.0000 268.08 0.00)" font-size="79.70" fill="#000">d</text>
<text transform="matrix(1.0000 0 0 0.9200 307.14 0.00)" font-size="79.70" fill="#000">e</text>
<text transform="matrix(0.7131 0 0 1.0000 380.56 0.00)" font-size="79.70" fill="#000">N</text>
<text transform="matrix(1.1158 0 0 0.9717 347.00 5.25)" font-size="100.00" fill="#000">/</text>
</g>
<text transform="matrix(0.9319 0 0 1.0000 1040.07 1694.00)" font-size="79.30" fill="#000">F</text>
<text transform="matrix(1.0000 0 0 0.9350 1082.60 1694.00)" font-size="79.30" fill="#000">r</text>
<text transform="matrix(1.0000 0 0 0.9200 1118.53 1694.00)" font-size="79.30" fill="#000">e</text>
<text transform="matrix(0.9391 0 0 0.9200 1155.61 1694.00)" font-size="79.30" fill="#000">q</text>
<text transform="matrix(0.7140 0 0 1.0000 1268.27 1694.00)" font-size="79.30" fill="#000">H</text>
<text transform="matrix(0.9494 0 0 0.9500 1310.08 1694.00)" font-size="79.30" fill="#000">z</text>
<text transform="matrix(0.7483 0 0 0.6303 1189.09 1691.45)" font-size="100.00" fill="#000">（</text>
<text transform="matrix(0.7937 0 0 0.6303 1352.60 1691.45)" font-size="100.00" fill="#000">）</text>
<text transform="matrix(0.7683 0 0 1.0000 681.74 190.05)" font-size="79.50" fill="#ff2128">B</text>
<text transform="matrix(0.8776 0 0 1.0000 721.39 190.05)" font-size="79.50" fill="#ff2128">P</text>
<text transform="matrix(0.9167 0 0 1.0000 759.40 190.05)" font-size="79.50" fill="#ff2128">F</text>
<text transform="matrix(0.6636 0 0 1.0000 295.78 1194.80)" font-size="79.50" fill="#ff2128">A</text>
<text transform="matrix(0.8776 0 0 1.0000 334.49 1194.80)" font-size="79.50" fill="#ff2128">P</text>
<text transform="matrix(0.9219 0 0 1.0000 372.39 1194.80)" font-size="79.50" fill="#ff2128">F</text>
<text transform="matrix(0.9633 0 0 1.0000 1128.23 1369.00)" font-size="79.50" fill="#ff2128">2</text>
<text transform="matrix(0.7641 0 0 1.0000 1164.75 1369.00)" font-size="79.50" fill="#ff2128">B</text>
<text transform="matrix(0.8750 0 0 1.0000 1203.40 1369.00)" font-size="79.50" fill="#ff2128">P</text>
<text transform="matrix(0.9142 0 0 1.0000 1242.41 1369.00)" font-size="79.50" fill="#ff2128">F</text>
<text transform="matrix(0.9135 0 0 1.0000 1597.02 1380.80)" font-size="79.50" fill="#ff2128">3</text>
<text transform="matrix(0.7683 0 0 1.0000 1632.64 1380.80)" font-size="79.50" fill="#ff2128">B</text>
<text transform="matrix(0.8802 0 0 1.0000 1671.58 1380.80)" font-size="79.50" fill="#ff2128">P</text>
<text transform="matrix(0.9244 0 0 1.0000 1710.28 1380.80)" font-size="79.50" fill="#ff2128">F</text>
<line x1="1667.8" y1="202.9" x2="1719.3" y2="202.9" stroke="#000" stroke-width="3.2" stroke-linecap="round"/>
<line x1="1777.1" y1="202.9" x2="1829.0" y2="202.9" stroke="#000" stroke-width="3.2" stroke-linecap="round"/>
<rect x="1738.05" y="194.4" width="19.7" height="18.2" fill="#fff" stroke="#000" stroke-width="2.1"/>
<line x1="1667.8" y1="317.9" x2="1720.9" y2="317.9" stroke="#000" stroke-width="3.2" stroke-linecap="round" stroke-dasharray="9 12.2"/>
<line x1="1777.1" y1="317.9" x2="1830.6" y2="317.9" stroke="#000" stroke-width="3.2" stroke-linecap="round" stroke-dasharray="9 12.2"/>
<circle cx="1747.9" cy="318.3" r="10.9" fill="#fff" stroke="#ff2128" stroke-width="2.2"/>
<line x1="1667.4" y1="432.4" x2="1714.9" y2="432.4" stroke="#000" stroke-width="3" stroke-linecap="round" stroke-dasharray="11.5 5.5 3 6"/>
<line x1="1776.5" y1="432.4" x2="1823.8" y2="432.4" stroke="#000" stroke-width="3" stroke-linecap="round" stroke-dasharray="11.5 5.5 3 6"/>
<path d="M1747.6 419.6L1759.6 440.4L1735.6 440.4Z" fill="#fff" stroke="#3000ff" stroke-width="2.8"/>
<text transform="matrix(0.9104 0 0 1.0000 1868.39 233.20)" font-size="84.30" fill="#000">F</text>
<text style="stroke-width:0.3px" transform="matrix(0.9635 0 0 1.0000 1911.11 259.80)" font-size="45.50" fill="#000">x</text>
<text transform="matrix(0.9104 0 0 1.0000 1868.39 347.40)" font-size="84.30" fill="#000">F</text>
<text style="stroke-width:0.3px" transform="matrix(0.9356 0 0 1.0000 1911.38 374.10)" font-size="45.50" fill="#000">y</text>
<text transform="matrix(0.9104 0 0 1.0000 1868.39 461.80)" font-size="84.30" fill="#000">F</text>
<text style="stroke-width:0.3px" transform="matrix(1.0000 0 0 1.0000 1912.07 489.40)" font-size="45.50" fill="#000">z</text>
</svg></body></html>
